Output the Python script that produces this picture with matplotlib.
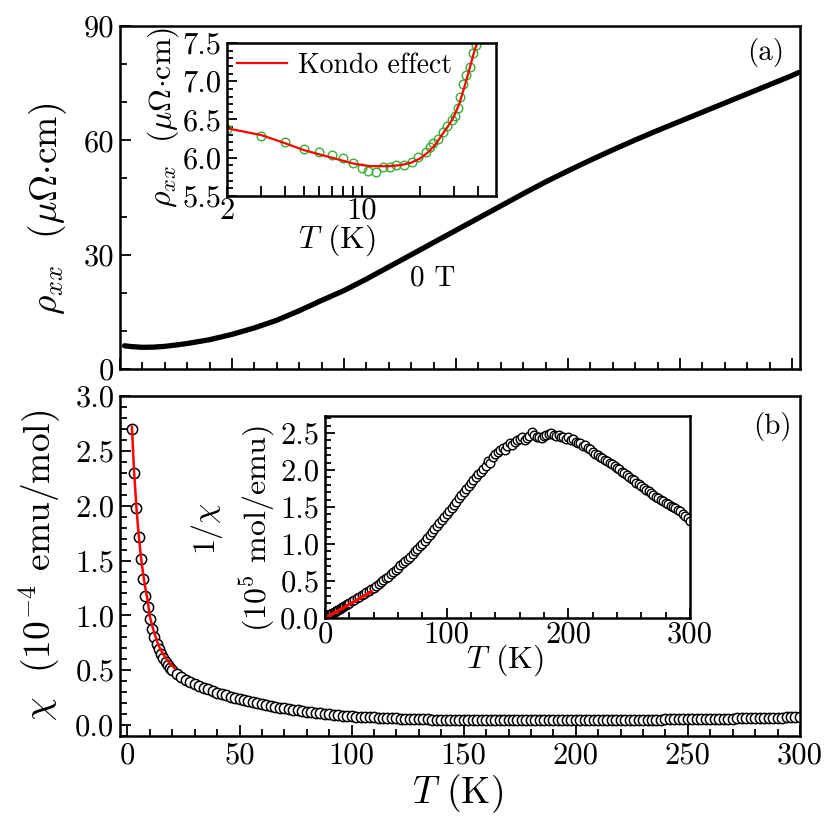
import numpy as np
import matplotlib
matplotlib.use("Agg")
import matplotlib.pyplot as plt
from matplotlib.ticker import MultipleLocator, FixedLocator, FixedFormatter, NullFormatter, FormatStrFormatter

plt.rcParams["font.family"] = ["cmr10", "DejaVu Serif"]
plt.rcParams["mathtext.fontset"] = "cm"
plt.rcParams["axes.formatter.use_mathtext"] = True
plt.rcParams["axes.unicode_minus"] = False

# (a) resistivity at 0 T
T_rho = [2, 5, 10, 15, 20, 25, 30, 40, 50, 60, 70, 80, 90, 100, 110, 120, 130, 140,
         150, 160, 170, 180, 190, 200, 210, 220, 230, 240, 250, 260, 270, 280, 290, 300, 303]
rho = [6.1, 5.9, 5.7, 5.75, 5.95, 6.3, 6.7, 7.7, 9.1, 10.8, 12.8, 15.3, 18.0, 20.6, 23.6,
       26.8, 30.0, 33.2, 36.4, 39.6, 42.8, 46.0, 49.1, 52.0, 54.8, 57.5, 60.1, 62.6, 65.0,
       67.4, 69.8, 72.2, 74.6, 77.0, 77.8]

# inset (a): low-T resistivity and Kondo fit
T_low = [2.0, 3.0, 4.0, 5.0, 6.0, 7.0, 8.0, 9.0, 10.0, 10.8, 11.9, 12.8, 14.0, 15.1, 16.5,
         18.1, 19.6, 21.6, 22.5, 23.4, 24.9, 26.2, 27.5, 29.2, 30.5, 31.5, 32.2, 33.5, 34.8,
         36.2, 37.8, 38.9]
rho_low = [6.37, 6.28, 6.20, 6.12, 6.07, 6.04, 6.00, 5.93, 5.86, 5.83, 5.82, 5.88, 5.88, 5.905,
           5.91, 5.95, 6.01, 6.08, 6.14, 6.19, 6.25, 6.33, 6.41, 6.49, 6.55, 6.65, 6.80, 6.97,
           7.08, 7.19, 7.37, 7.47]
T_kondo = [2, 3, 4, 5, 6, 7, 8, 9, 10, 11, 12, 14, 16, 18, 20, 22, 24, 26, 28, 30, 32, 34, 36, 38, 39.5]
rho_kondo = [6.385, 6.297, 6.19, 6.10, 6.045, 6.0, 5.96, 5.925, 5.905, 5.89, 5.89, 5.89, 5.905,
             5.935, 5.99, 6.07, 6.17, 6.30, 6.415, 6.54, 6.71, 6.93, 7.15, 7.37, 7.50]

# (b) susceptibility, 1e-4 emu/mol
T_chi = np.concatenate([np.arange(2, 21), np.arange(22, 301, 2)])
chi = [2.70, 2.30, 1.98, 1.71, 1.51, 1.33, 1.18, 1.08, 0.97, 0.88, 0.80, 0.74, 0.69, 0.645,
       0.61, 0.575, 0.548, 0.522, 0.50,
       0.465, 0.44, 0.415, 0.395, 0.375, 0.357, 0.34, 0.325, 0.31, 0.295,
       0.282, 0.27, 0.258, 0.247, 0.236, 0.226, 0.216, 0.207, 0.198, 0.19,
       0.182, 0.174, 0.166, 0.159, 0.152, 0.145, 0.139, 0.133, 0.127, 0.121,
       0.116, 0.111, 0.106, 0.102, 0.098, 0.094, 0.090, 0.087, 0.084, 0.081,
       0.078, 0.076, 0.073, 0.071, 0.069, 0.067, 0.065, 0.063, 0.061, 0.060,
       0.058, 0.057, 0.056, 0.054, 0.053, 0.052, 0.051, 0.050, 0.049, 0.048,
       0.047, 0.047, 0.046, 0.045, 0.045, 0.044, 0.044, 0.043, 0.043, 0.043,
       0.042, 0.043, 0.042, 0.042, 0.042, 0.042, 0.043, 0.042, 0.042, 0.043,
       0.043, 0.042, 0.043, 0.043, 0.043, 0.044, 0.043, 0.044, 0.044, 0.044,
       0.045, 0.044, 0.045, 0.045, 0.045, 0.046, 0.045, 0.046, 0.046, 0.047,
       0.047, 0.047, 0.048, 0.048, 0.048, 0.049, 0.049, 0.050, 0.050, 0.051,
       0.051, 0.052, 0.052, 0.053, 0.053, 0.054, 0.054, 0.055, 0.055, 0.056,
       0.057, 0.057, 0.058, 0.059, 0.059, 0.060, 0.061, 0.062, 0.062, 0.063,
       0.064, 0.065, 0.066, 0.066, 0.067, 0.068, 0.069, 0.070, 0.071, 0.072]
T_cw = [2, 3, 4, 5, 6, 7, 8, 9, 10, 11, 12, 13, 14, 16, 18, 20, 21]
chi_cw = [2.72, 2.30, 1.99, 1.74, 1.54, 1.38, 1.25, 1.14, 0.99, 0.91, 0.84, 0.78, 0.72,
          0.645, 0.585, 0.54, 0.52]

# inset (b): 1/chi, 1e5 mol/emu
inv_chi = [0.037, 0.043, 0.050, 0.058, 0.066, 0.075, 0.085, 0.093, 0.103, 0.113, 0.125, 0.135,
           0.145, 0.155, 0.165, 0.175, 0.185, 0.195, 0.205,
           0.225, 0.245, 0.265, 0.285, 0.305, 0.325, 0.345, 0.365, 0.39, 0.41,
           0.435, 0.46, 0.485, 0.51, 0.535, 0.56, 0.59, 0.62, 0.65, 0.68,
           0.71, 0.74, 0.77, 0.80, 0.83, 0.865, 0.90, 0.935, 0.97, 1.005,
           1.04, 1.08, 1.12, 1.16, 1.20, 1.24, 1.28, 1.32, 1.36, 1.40,
           1.44, 1.49, 1.53, 1.57, 1.62, 1.66, 1.70, 1.74, 1.78, 1.82,
           1.86, 1.90, 1.94, 1.97, 2.01, 2.05, 2.12, 2.10, 2.17, 2.21,
           2.24, 2.27, 2.30, 2.27, 2.33, 2.36, 2.34, 2.38, 2.40, 2.42,
           2.44, 2.40, 2.43, 2.46, 2.52, 2.48, 2.44, 2.45, 2.43, 2.46,
           2.47, 2.49, 2.50, 2.48, 2.46, 2.47, 2.45, 2.44, 2.42, 2.45,
           2.40, 2.42, 2.38, 2.36, 2.37, 2.33, 2.34, 2.30, 2.28, 2.25,
           2.22, 2.20, 2.18, 2.16, 2.14, 2.12, 2.10, 2.08, 2.06, 2.03,
           2.01, 1.98, 1.96, 1.93, 1.91, 1.88, 1.86, 1.83, 1.81, 1.78,
           1.76, 1.73, 1.71, 1.69, 1.66, 1.64, 1.62, 1.60, 1.58, 1.56,
           1.54, 1.52, 1.50, 1.48, 1.46, 1.44, 1.41, 1.38, 1.35, 1.31]
T_lin = [2, 10, 20, 30, 38]
inv_lin = [0.02, 0.09, 0.185, 0.28, 0.355]

GREEN = "#35b035"
TICK = 22
LABEL = 27
INLABEL = 23
UNIT = r"$\rho_{xx}$  ($\mu\Omega{\cdot}\mathrm{cm}$)"


def style(ax, major=8, minor=5, size=TICK):
    for s in ax.spines.values():
        s.set_linewidth(1.8)
    ax.tick_params(which="both", direction="in", width=1.3, labelsize=size, top=False, right=False)
    ax.tick_params(which="major", length=major, pad=4)
    ax.tick_params(which="minor", length=minor)


fig = plt.figure(figsize=(8.34, 8.17), dpi=100)
ax1 = fig.add_axes([0.1439, 0.5483, 0.8153, 0.4198])
ax2 = fig.add_axes([0.1439, 0.0991, 0.8153, 0.4162])
ins1 = fig.add_axes([0.2722, 0.7601, 0.3225, 0.1873])
ins2 = fig.add_axes([0.3897, 0.2436, 0.4376, 0.2472])

# ---- (a)
ax1.plot(T_rho, rho, color="black", lw=3.8, solid_capstyle="round")
ax1.set_xlim(0, 303.6)
ax1.set_ylim(0, 90)
ax1.xaxis.set_major_locator(MultipleLocator(50))
ax1.xaxis.set_minor_locator(MultipleLocator(10))
ax1.xaxis.set_major_formatter(NullFormatter())
ax1.yaxis.set_major_locator(MultipleLocator(30))
ax1.yaxis.set_minor_locator(MultipleLocator(10))
ax1.yaxis.set_major_formatter(FormatStrFormatter("%d"))
style(ax1)
ax1.set_ylabel(UNIT, fontsize=LABEL, va="center")
ax1.yaxis.set_label_coords(-0.107, 0.466)
ax1.text(139.7, 23.8, "0 T", fontsize=21, ha="center", va="center")
ax1.text(0.949, 0.924, "(a)", transform=ax1.transAxes, fontsize=21, ha="center", va="center")

ins1.plot(T_low, rho_low, "o", mfc="none", mec=GREEN, ms=6.2, mew=1.0)
ins1.plot(T_kondo, rho_kondo, color="red", lw=1.6, label="Kondo effect")
ins1.set_xscale("log")
ins1.set_xlim(2, 49.5)
ins1.set_ylim(5.5, 7.5)
ins1.xaxis.set_major_locator(FixedLocator([2, 10]))
ins1.xaxis.set_major_formatter(FixedFormatter(["2", "10"]))
ins1.xaxis.set_minor_locator(FixedLocator([3, 4, 5, 6, 7, 8, 9, 20, 30, 40]))
ins1.xaxis.set_minor_formatter(NullFormatter())
ins1.yaxis.set_major_locator(MultipleLocator(0.5))
ins1.yaxis.set_minor_locator(MultipleLocator(0.1))
ins1.yaxis.set_major_formatter(FormatStrFormatter("%.1f"))
style(ins1, major=7, minor=4.5)
ins1.tick_params(which="minor", axis="x", length=7)
ins1.tick_params(axis="x", pad=1)
ins1.set_xlabel(r"$T$ (K)", fontsize=INLABEL, va="center")
ins1.xaxis.set_label_coords(0.41, -0.29)
ins1.set_ylabel(UNIT, fontsize=INLABEL, va="center")
ins1.yaxis.set_label_coords(-0.238, 0.51)
ins1.legend(loc="upper left", frameon=False, fontsize=20, handlelength=1.8,
            borderaxespad=0.05, handletextpad=0.4, borderpad=0.3)

# ---- (b)
ax2.plot(T_chi, chi, "o", mfc="white", mec="black", ms=7.4, mew=1.1)
ax2.plot(T_cw, chi_cw, color="red", lw=1.8)
ax2.set_xlim(-3.3, 300)
ax2.set_ylim(-0.1, 3.0)
ax2.xaxis.set_major_locator(MultipleLocator(50))
ax2.xaxis.set_minor_locator(MultipleLocator(10))
ax2.xaxis.set_major_formatter(FormatStrFormatter("%d"))
ax2.yaxis.set_major_locator(MultipleLocator(0.5))
ax2.yaxis.set_minor_locator(MultipleLocator(0.1))
ax2.yaxis.set_major_formatter(FormatStrFormatter("%.1f"))
style(ax2)
ax2.set_xlabel(r"$T$ (K)", fontsize=LABEL, va="center")
ax2.xaxis.set_label_coords(0.496, -0.168)
ax2.set_ylabel(r"$\chi$  ($10^{-4}$ emu/mol)", fontsize=LABEL, va="center")
ax2.yaxis.set_label_coords(-0.118, 0.503)
ax2.text(0.959, 0.909, "(b)", transform=ax2.transAxes, fontsize=21, ha="center", va="center")

ins2.plot(T_chi, inv_chi, "o", mfc="white", mec="black", ms=6.2, mew=1.0)
ins2.plot(T_lin, inv_lin, color="red", lw=2.4)
ins2.set_xlim(0, 300)
ins2.set_ylim(0, 2.73)
ins2.xaxis.set_major_locator(MultipleLocator(100))
ins2.xaxis.set_minor_locator(MultipleLocator(20))
ins2.xaxis.set_major_formatter(FormatStrFormatter("%d"))
ins2.yaxis.set_major_locator(MultipleLocator(0.5))
ins2.yaxis.set_minor_locator(MultipleLocator(0.1))
ins2.yaxis.set_major_formatter(FormatStrFormatter("%.1f"))
style(ins2, major=7, minor=4.5)
ins2.tick_params(axis="x", pad=2)
ins2.set_xlabel(r"$T$ (K)", fontsize=INLABEL, va="center")
ins2.xaxis.set_label_coords(0.493, -0.208)
ins2.set_ylabel("$1/\\chi$\n($10^5$ mol/emu)", fontsize=INLABEL, va="center", linespacing=1.45)
ins2.yaxis.set_label_coords(-0.252, 0.445)

fig.savefig("out.png", dpi=100)
